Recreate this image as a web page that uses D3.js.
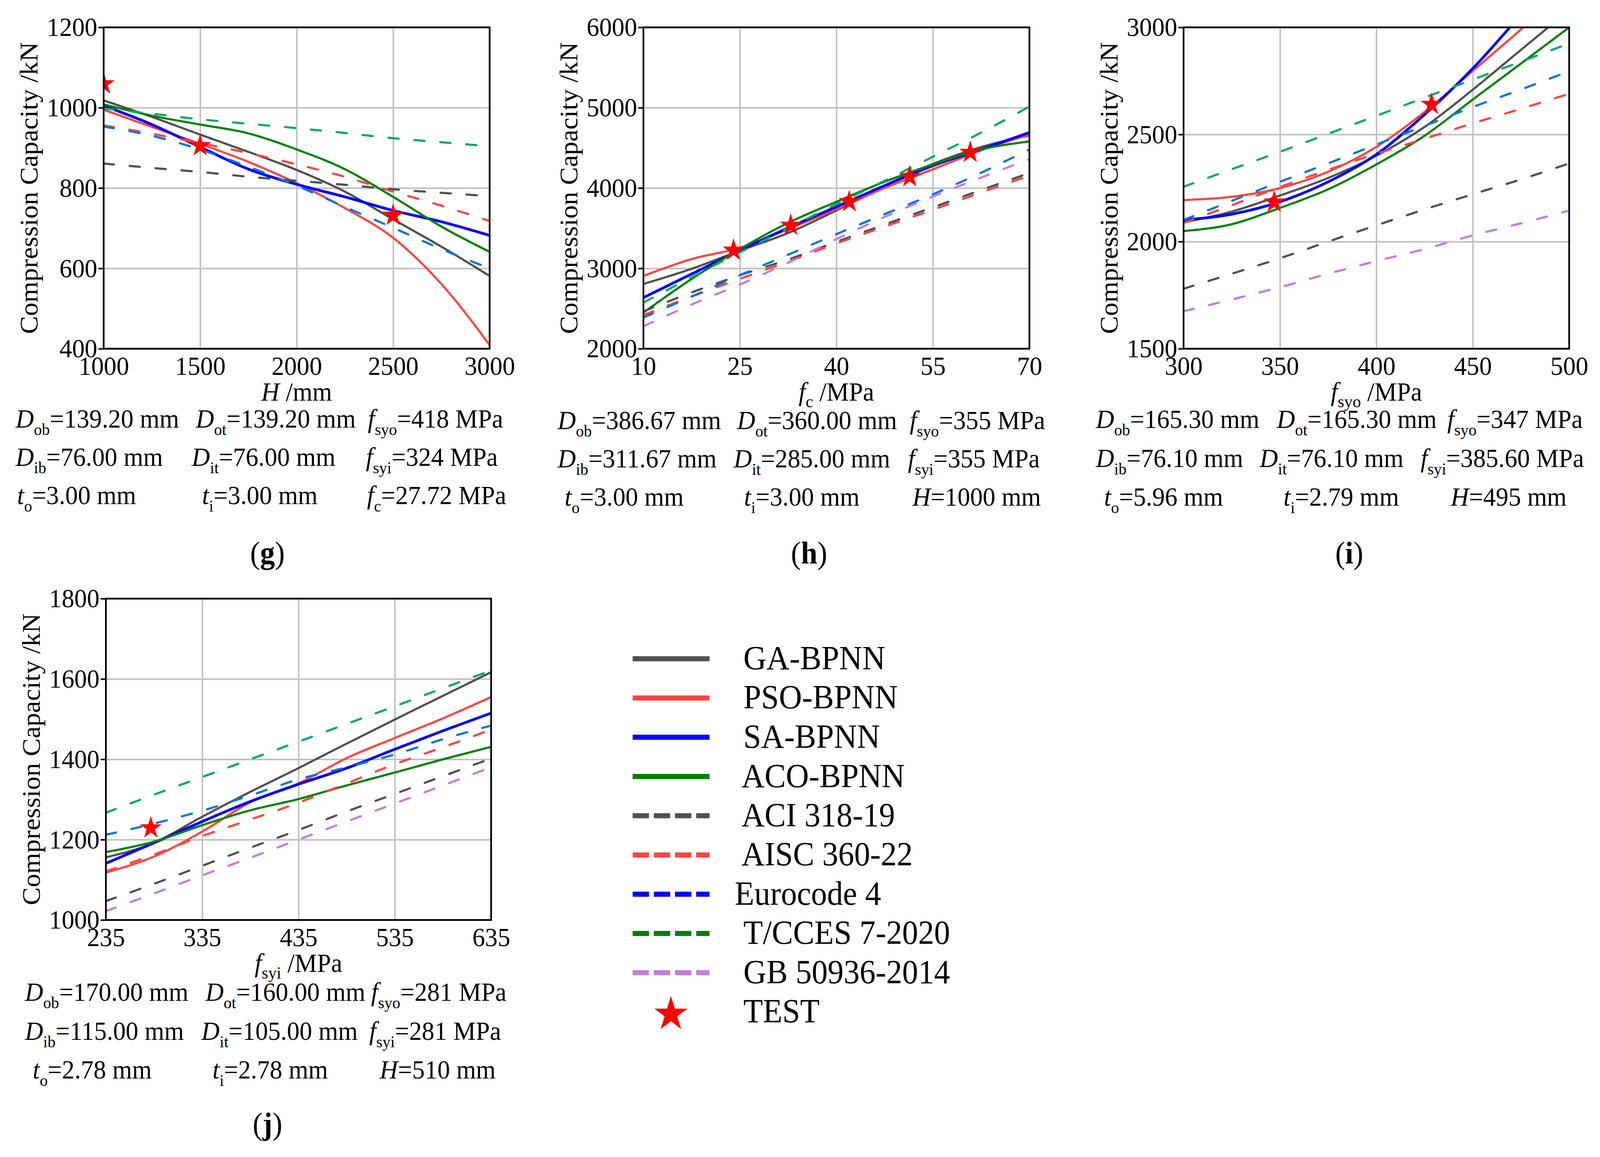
<!DOCTYPE html>
<html>
<head>
<meta charset="utf-8">
<script src="https://cdn.jsdelivr.net/npm/d3@7"></script>
<style>
  html, body { margin: 0; padding: 0; background: #fff; overflow: hidden; }
  svg { display: block; width: 100vw; height: 100vh; }
  text { font-family: "Liberation Serif", "Times New Roman", serif; fill: #000; }
</style>
</head>
<body>
<div id="chart"></div>
<script>
// ---- data ----
const seriesNames = ["GA-BPNN", "PSO-BPNN", "SA-BPNN", "ACO-BPNN", "ACI 318-19",
                     "AISC 360-22", "Eurocode 4", "T/CCES 7-2020", "GB 50936-2014"];

// (g) capacity vs H
const gX = [1000, 1250, 1500, 1750, 2000, 2250, 2500, 2750, 3000];
const gGA = [1018, 977, 933, 890, 845, 791, 722, 654, 581];
const gPSO = [995, 952, 910, 865, 812, 750, 676, 561, 409];
const gSA = [1005, 958, 902, 847, 809, 778, 744, 716, 682];
const gACO = [1008, 980, 958, 936, 896, 847, 778, 704, 641];
const gACI = [861, 850, 840, 828, 818, 808, 797, 788, 780];
const gAISC = [956, 935, 912, 887, 859, 828, 791, 756, 718];
const gEC4 = [953, 930, 896, 853, 806, 753, 701, 648, 600];
const gCCES = [998, 985, 971, 960, 949, 937, 924, 914, 904];
const gTest = [[1000, 1059], [1500, 905], [2500, 732]];
const gXTicks = [1000, 1500, 2000, 2500, 3000];
const gYTicks = [400, 600, 800, 1000, 1200];

// (h) capacity vs fc
const hX = [10, 17.5, 25, 32.5, 40, 47.5, 55, 62.5, 70];
const hGA = [2806, 2995, 3220, 3440, 3720, 4030, 4300, 4510, 4655];
const hPSO = [2906, 3116, 3256, 3488, 3736, 4000, 4233, 4470, 4665];
const hSA = [2636, 2930, 3225, 3504, 3767, 4031, 4279, 4481, 4691];
const hACO = [2450, 2868, 3240, 3566, 3829, 4078, 4295, 4481, 4580];
const hACI = [2465, 2700, 2915, 3110, 3330, 3545, 3760, 3975, 4186];
const hAISC = [2419, 2650, 2870, 3085, 3310, 3520, 3730, 3945, 4155];
const hEC4 = [2388, 2650, 2915, 3170, 3426, 3675, 3922, 4190, 4480];
const hCCES = [2574, 2890, 3200, 3500, 3800, 4090, 4390, 4690, 5014];
const hGB = [2279, 2550, 2800, 3070, 3364, 3640, 3895, 4130, 4360];
const hTest = [[24, 3225], [32.9, 3535], [42, 3829], [51.4, 4140], [60.8, 4443]];
const hXTicks = [10, 25, 40, 55, 70];
const hYTicks = [2000, 3000, 4000, 5000, 6000];

// (i) capacity vs fsyo
const iX = [300, 325, 350, 375, 400, 425, 450, 475, 500];
const iGA = [2090, 2140, 2215, 2297, 2401, 2535, 2709, 2895, 3080];
const iPSO = [2194, 2209, 2250, 2326, 2442, 2605, 2797, 2990, 3190];
const iSA = [2101, 2128, 2186, 2279, 2407, 2593, 2808, 3060, 3330];
const iACO = [2049, 2081, 2157, 2244, 2360, 2494, 2663, 2831, 3000];
const iACI = [1780, 1850, 1922, 2000, 2076, 2150, 2221, 2290, 2365];
const iAISC = [2087, 2170, 2255, 2335, 2410, 2480, 2552, 2620, 2690];
const iEC4 = [2101, 2190, 2279, 2365, 2453, 2540, 2628, 2710, 2795];
const iCCES = [2256, 2338, 2419, 2503, 2587, 2672, 2756, 2840, 2925];
const iGB = [1675, 1730, 1787, 1850, 1909, 1965, 2029, 2085, 2145];
const iTest = [[347, 2184], [428.6, 2640]];
const iXTicks = [300, 350, 400, 450, 500];
const iYTicks = [1500, 2000, 2500, 3000];

// (j) capacity vs fsyi
const jX = [235, 285, 335, 385, 435, 485, 535, 585, 635];
const jGA = [1156, 1192, 1257, 1319, 1378, 1439, 1499, 1558, 1617];
const jPSO = [1118, 1158, 1220, 1293, 1340, 1403, 1453, 1502, 1555];
const jSA = [1141, 1192, 1245, 1295, 1338, 1378, 1425, 1471, 1515];
const jACO = [1169, 1195, 1236, 1273, 1301, 1335, 1367, 1400, 1431];
const jACI = [1047, 1090, 1135, 1180, 1224, 1270, 1314, 1358, 1402];
const jAISC = [1121, 1163, 1209, 1250, 1292, 1340, 1388, 1430, 1474];
const jEC4 = [1212, 1240, 1272, 1310, 1350, 1380, 1412, 1450, 1484];
const jCCES = [1267, 1312, 1356, 1400, 1444, 1488, 1532, 1577, 1621];
const jGB = [1022, 1066, 1111, 1155, 1200, 1245, 1290, 1335, 1380];
const jTest = [[281.6, 1229]];
const jXTicks = [235, 335, 435, 535, 635];
const jYTicks = [1000, 1200, 1400, 1600, 1800];

// parameter notes under each panel: [italic symbol, subscript, rest]
const gNotes = [["D","ob","=139.20 mm"], ["D","ot","=139.20 mm"], ["f","syo","=418 MPa"],
                ["D","ib","=76.00 mm"], ["D","it","=76.00 mm"], ["f","syi","=324 MPa"],
                ["t","o","=3.00 mm"], ["t","i","=3.00 mm"], ["f","c","=27.72 MPa"]];
const hNotes = [["D","ob","=386.67 mm"], ["D","ot","=360.00 mm"], ["f","syo","=355 MPa"],
                ["D","ib","=311.67 mm"], ["D","it","=285.00 mm"], ["f","syi","=355 MPa"],
                ["t","o","=3.00 mm"], ["t","i","=3.00 mm"], ["H","","=1000 mm"]];
const iNotes = [["D","ob","=165.30 mm"], ["D","ot","=165.30 mm"], ["f","syo","=347 MPa"],
                ["D","ib","=76.10 mm"], ["D","it","=76.10 mm"], ["f","syi","=385.60 MPa"],
                ["t","o","=5.96 mm"], ["t","i","=2.79 mm"], ["H","","=495 mm"]];
const jNotes = [["D","ob","=170.00 mm"], ["D","ot","=160.00 mm"], ["f","syo","=281 MPa"],
                ["D","ib","=115.00 mm"], ["D","it","=105.00 mm"], ["f","syi","=281 MPa"],
                ["t","o","=2.78 mm"], ["t","i","=2.78 mm"], ["H","","=510 mm"]];

// ---- styles ----
const lineColor = ["#505050", "#ff4444", "#0000ff", "#008000", "#505050",
                   "#ff4444", "#0a72dc", "#00a86b", "#c27ce0"];
const legendColor = ["#505050", "#ff4444", "#0000ff", "#008000", "#505050",
                     "#ff4444", "#0000ff", "#008000", "#c27ce0"];
const dashed = [false, false, false, false, true, true, true, true, true];

const W = 4307, H = 2963;
// the window may be narrower than 4307; stretch the drawing space over the viewport
const svg = d3.select("#chart").append("svg")
    .attr("viewBox", `0 0 ${W} ${H}`)
    .attr("preserveAspectRatio", "none");

const panels = [
  { id: "g", box: [279, 1318, 70, 893], xd: [1000, 3000], yd: [400, 1200],
    xt: gXTicks, yt: gYTicks, x: gX,
    ys: [gGA, gPSO, gSA, gACO, gACI, gAISC, gEC4, gCCES, null], test: gTest,
    title: ["H", "", " /mm"], notes: gNotes,
    noteX: [[42, 527, 990], [42, 516, 985], [46, 544, 988]], noteY: [1095, 1193, 1291],
    labelX: 720, labelY: 1443 },
  { id: "h", box: [1732, 2771, 70, 893], xd: [10, 70], yd: [2000, 6000],
    xt: hXTicks, yt: hYTicks, x: hX,
    ys: [hGA, hPSO, hSA, hACO, hACI, hAISC, hEC4, hCCES, hGB], test: hTest,
    title: ["f", "c", " /MPa"], notes: hNotes,
    noteX: [[1501, 1984, 2449], [1501, 1975, 2444], [1520, 2003, 2456]], noteY: [1099, 1197, 1295],
    labelX: 2178, labelY: 1443 },
  { id: "i", box: [3186, 4224, 70, 893], xd: [300, 500], yd: [1500, 3000],
    xt: iXTicks, yt: iYTicks, x: iX,
    ys: [iGA, iPSO, iSA, iACO, iACI, iAISC, iEC4, iCCES, iGB], test: iTest,
    title: ["f", "syo", " /MPa"], notes: iNotes,
    noteX: [[2950, 3437, 3896], [2950, 3391, 3824], [2972, 3455, 3905]], noteY: [1096, 1196, 1295],
    labelX: 3632, labelY: 1443 },
  { id: "j", box: [285, 1322, 1533, 2356], xd: [235, 635], yd: [1000, 1800],
    xt: jXTicks, yt: jYTicks, x: jX,
    ys: [jGA, jPSO, jSA, jACO, jACI, jAISC, jEC4, jCCES, jGB], test: jTest,
    title: ["f", "syi", " /MPa"], notes: jNotes,
    noteX: [[67, 553, 999], [67, 542, 994], [88, 572, 1022]], noteY: [2563, 2663, 2762],
    labelX: 720, labelY: 2905 }
];

function symText(sel, parts, size, subSize, shift) {
  sel.append("tspan").attr("font-style", "italic").text(parts[0]);
  if (parts[1]) {
    sel.append("tspan").attr("font-size", subSize).attr("dy", shift).text(parts[1]);
    sel.append("tspan").attr("dy", -shift).text(parts[2]);
  } else {
    sel.append("tspan").text(parts[2]);
  }
}

const star = d3.symbol().type(d3.symbolStar);
const fmt = d3.format("d");

panels.forEach(p => {
  const [l, r, t, b] = p.box;
  const x = d3.scaleLinear().domain(p.xd).range([l, r]);
  const y = d3.scaleLinear().domain(p.yd).range([b, t]);
  const g = svg.append("g");

  // grid
  g.append("g").attr("transform", `translate(0,${b})`)
    .call(d3.axisBottom(x).tickValues(p.xt).tickSize(-(b - t)).tickFormat(""))
    .call(a => a.select(".domain").remove())
    .call(a => a.selectAll("line").attr("stroke", "#c0c0c0").attr("stroke-width", 4));
  g.append("g").attr("transform", `translate(${l},0)`)
    .call(d3.axisLeft(y).tickValues(p.yt).tickSize(-(r - l)).tickFormat(""))
    .call(a => a.select(".domain").remove())
    .call(a => a.selectAll("line").attr("stroke", "#c0c0c0").attr("stroke-width", 4));

  // clipped plot area
  g.append("clipPath").attr("id", "clip-" + p.id)
    .append("rect").attr("x", l).attr("y", t).attr("width", r - l).attr("height", b - t);
  const plot = g.append("g").attr("clip-path", `url(#clip-${p.id})`);

  const line = d3.line().x(d => x(d[0])).y(d => y(d[1])).curve(d3.curveMonotoneX);
  p.ys.forEach((vals, k) => {
    if (!vals) return;
    const pts = p.x.map((xv, n) => [xv, vals[n]]);
    plot.append("path").datum(pts)
      .attr("d", line)
      .attr("fill", "none")
      .attr("stroke", lineColor[k])
      .attr("stroke-width", k === 2 ? 7 : 5.5)
      .attr("stroke-linecap", dashed[k] ? "round" : "butt")
      .attr("stroke-dasharray", dashed[k] ? "28,42" : null);
  });

  plot.selectAll(".test").data(p.test).enter().append("path")
    .attr("d", star.size(1050)())
    .attr("transform", d => `translate(${x(d[0])},${y(d[1])})`)
    .attr("fill", "#ff0000");

  // frame
  g.append("rect").attr("x", l).attr("y", t).attr("width", r - l).attr("height", b - t)
    .attr("fill", "none").attr("stroke", "#000").attr("stroke-width", 4.5);

  // tick labels
  g.append("g").attr("transform", `translate(0,${b})`)
    .call(d3.axisBottom(x).tickValues(p.xt).tickFormat(fmt)
      .tickSizeInner(0).tickSizeOuter(0).tickPadding(19))
    .call(a => a.select(".domain").remove())
    .call(a => a.selectAll("text").attr("font-size", 68)
      .attr("font-family", "Liberation Serif, serif"));
  g.append("g").attr("transform", `translate(${l},0)`)
    .call(d3.axisLeft(y).tickValues(p.yt).tickFormat(fmt)
      .tickSizeInner(14).tickSizeOuter(0).tickPadding(3))
    .call(a => a.select(".domain").remove())
    .call(a => a.selectAll("line").attr("stroke", "#000").attr("stroke-width", 4))
    .call(a => a.selectAll("text").attr("font-size", 68)
      .attr("font-family", "Liberation Serif, serif"));

  // axis titles
  const xt = g.append("text").attr("x", (l + r) / 2).attr("y", b + 133)
    .attr("text-anchor", "middle").attr("font-size", 68);
  symText(xt, p.title, 68, 45, 17);

  g.append("text")
    .attr("transform", `translate(${l - 178},${(t + b) / 2}) rotate(-90)`)
    .attr("text-anchor", "middle").attr("font-size", 69)
    .text("Compression Capacity /kN");

  // parameter notes
  p.notes.forEach((n, k) => {
    const row = Math.floor(k / 3), col = k % 3;
    const tx = g.append("text").attr("x", p.noteX[row][col]).attr("y", p.noteY[row])
      .attr("font-size", 68);
    symText(tx, n, 68, 43, 19);
  });

  // panel label
  const lab = g.append("text").attr("x", p.labelX).attr("y", p.labelY)
    .attr("text-anchor", "middle").attr("font-size", 80);
  lab.append("tspan").text("(");
  lab.append("tspan").attr("font-weight", "bold").text(p.id);
  lab.append("tspan").text(")");
});

// legend
const legend = svg.append("g");
const rowY = k => 1687 + k * 100.5;
seriesNames.forEach((name, k) => {
  legend.append("line")
    .attr("x1", 1703).attr("x2", 1910).attr("y1", rowY(k)).attr("y2", rowY(k))
    .attr("stroke", legendColor[k]).attr("stroke-width", 13)
    .attr("stroke-dasharray", dashed[k] ? "44,13" : null);
  legend.append("text")
    .attr("x", name === "Eurocode 4" ? 1978 : (k >= 3 && k <= 5 ? 1996 : 2001))
    .attr("y", rowY(k) + 27)
    .attr("font-size", 86)
    .text(name);
});
legend.append("path")
  .attr("d", star.size(2450)())
  .attr("transform", `translate(1806,${rowY(9) + 6})`)
  .attr("fill", "#ff0000");
legend.append("text").attr("x", 2001).attr("y", rowY(9) + 27)
  .attr("font-size", 86).text("TEST");
</script>
</body>
</html>
